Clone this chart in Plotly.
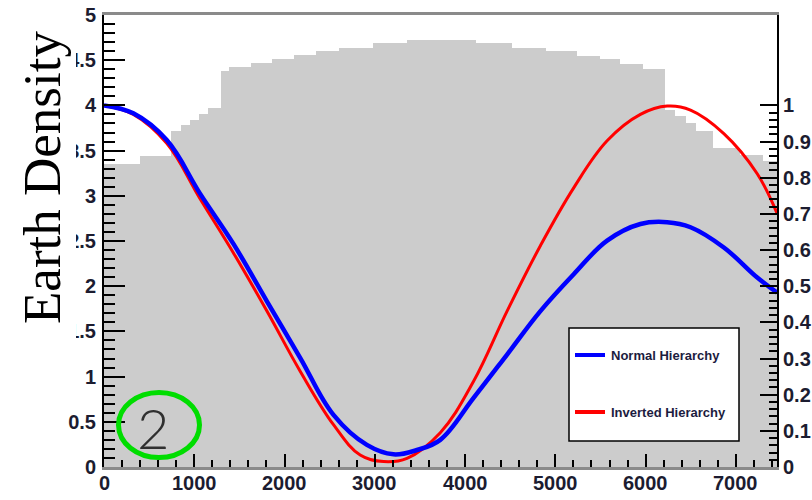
import plotly.graph_objects as go

# Earth density along the baseline (g/cm^3), as a stepped profile
density_edges_km = [0, 400, 740, 850, 950, 1050, 1150, 1300, 1390, 1630, 1860, 2100,
                    2350, 2600, 2980, 3360, 4120, 4520, 4900, 5240, 5490, 5720, 5970,
                    6210, 6330, 6450, 6560, 6750, 7050, 7300, 7460]
density_values = [3.35, 3.44, 3.72, 3.78, 3.84, 3.90, 3.97, 4.38, 4.42, 4.47, 4.51,
                  4.56, 4.60, 4.64, 4.69, 4.72, 4.69, 4.64, 4.60, 4.55, 4.51, 4.46,
                  4.40, 3.95, 3.88, 3.80, 3.72, 3.53, 3.45, 3.38]

# Oscillation probability vs distance, normal hierarchy
distance_nh = [0, 325, 695, 1064, 1434, 1803, 2173, 2542, 2912, 3207, 3466, 3725,
               4094, 4465, 4834, 5203, 5573, 5942, 6238, 6497, 6866, 7236, 7458]
prob_nh = [1.0, 0.978, 0.904, 0.756, 0.617, 0.459, 0.302, 0.144, 0.061, 0.035, 0.047,
           0.075, 0.191, 0.311, 0.431, 0.533, 0.626, 0.672, 0.677, 0.663, 0.607, 0.524,
           0.482]

# Oscillation probability vs distance, inverted hierarchy
distance_ih = [0, 325, 695, 1064, 1434, 1803, 2173, 2542, 2838, 3097, 3356, 3725,
               4094, 4465, 4834, 5203, 5573, 5942, 6238, 6497, 6866, 7236, 7458]
prob_ih = [1.0, 0.975, 0.895, 0.742, 0.592, 0.432, 0.265, 0.117, 0.033, 0.015, 0.024,
           0.095, 0.237, 0.431, 0.612, 0.772, 0.902, 0.975, 0.998, 0.987, 0.922, 0.811,
           0.70]

x_ticks = [0, 1000, 2000, 3000, 4000, 5000, 6000, 7000]
right_ticks = [0, 0.1, 0.2, 0.3, 0.4, 0.5, 0.6, 0.7, 0.8, 0.9, 1.0]
right_ticktext = ["0", "0.1", "0.2", "0.3", "0.4", "0.5", "0.6", "0.7", "0.8", "0.9", "1"]

W, H = 812, 500
ML, MR, MT, MB = 104, 35, 15, 33
PW, PH = W - ML - MR, H - MT - MB


def px_x(p):
    return (p - ML) / PW


def px_y(p):
    return (H - MB - p) / PH


bar_centers = [(a + b) / 2 for a, b in zip(density_edges_km[:-1], density_edges_km[1:])]
bar_widths = [b - a for a, b in zip(density_edges_km[:-1], density_edges_km[1:])]

TICK_FONT = dict(family="Liberation Sans", size=20, color="#1c1c30", weight="bold")

fig = go.Figure()
fig.add_trace(go.Bar(
    x=bar_centers, y=density_values, width=bar_widths,
    marker=dict(color="#cccccc", line=dict(width=0)),
    yaxis="y", showlegend=False, hoverinfo="skip",
))
fig.add_trace(go.Scatter(
    x=distance_ih, y=prob_ih, mode="lines", yaxis="y2",
    line=dict(color="#ff0000", width=3, shape="spline", smoothing=1.1),
    name="Inverted Hierarchy", showlegend=False,
))
fig.add_trace(go.Scatter(
    x=distance_nh, y=prob_nh, mode="lines", yaxis="y2",
    line=dict(color="#0000ff", width=4.5, shape="spline", smoothing=1.1),
    name="Normal Hierarchy", showlegend=False,
))

shapes = [
    # cover box behind the axis title
    dict(type="rect", xref="paper", yref="paper", layer="above",
         x0=px_x(0), x1=px_x(76), y0=px_y(345), y1=px_y(0),
         fillcolor="white", line=dict(width=0)),
    # legend box
    dict(type="rect", xref="paper", yref="paper", layer="above",
         x0=px_x(569), x1=px_x(739), y0=px_y(441), y1=px_y(328),
         fillcolor="white", line=dict(color="black", width=1.5)),
    dict(type="line", xref="paper", yref="paper", layer="above",
         x0=px_x(575), x1=px_x(605), y0=px_y(355), y1=px_y(355),
         line=dict(color="#0000ff", width=4)),
    dict(type="line", xref="paper", yref="paper", layer="above",
         x0=px_x(575), x1=px_x(605), y0=px_y(412), y1=px_y(412),
         line=dict(color="#ff0000", width=4)),
    # green ring around the panel number
    dict(type="circle", xref="paper", yref="paper", layer="above",
         x0=px_x(118.5), x1=px_x(199.5), y0=px_y(457.5), y1=px_y(392.5),
         line=dict(color="#00dd00", width=5)),
]

annotations = [
    dict(text="Earth Density", xref="paper", yref="paper",
         x=px_x(42), y=px_y(178), xanchor="center", yanchor="middle",
         textangle=-90, showarrow=False,
         font=dict(family="Liberation Serif", size=53, color="black")),
    dict(text="Normal Hierarchy", xref="paper", yref="paper",
         x=px_x(609), y=px_y(355), xanchor="left", yanchor="middle", showarrow=False,
         font=dict(family="Liberation Sans", size=13, color="#1c1c40", weight="bold")),
    dict(text="Inverted Hierarchy", xref="paper", yref="paper",
         x=px_x(609), y=px_y(412), xanchor="left", yanchor="middle", showarrow=False,
         font=dict(family="Liberation Sans", size=13, color="#1c1c40", weight="bold")),
    dict(text="2", xref="paper", yref="paper",
         x=px_x(153), y=px_y(427), xanchor="center", yanchor="middle", showarrow=False,
         font=dict(family="Lato", size=56, color="#303030", weight=300)),
]

# distance labels sit close under the bottom axis line
for v in x_ticks:
    annotations.append(dict(
        text=str(v), xref="x", yref="paper", x=v, y=px_y(483),
        xanchor="center", yanchor="middle", showarrow=False,
        font=TICK_FONT,
    ))

fig.update_layout(
    width=W, height=H,
    margin=dict(l=ML, r=MR, t=MT, b=MB, pad=0, autoexpand=False),
    paper_bgcolor="white", plot_bgcolor="white",
    bargap=0,
    shapes=shapes, annotations=annotations,
    xaxis=dict(
        range=[0, 7455], tickvals=x_ticks, ticks="inside", ticklen=13,
        tickcolor="black", tickwidth=1.5, automargin=False,
        showticklabels=False,
        minor=dict(dtick=200, tick0=0, ticks="inside", ticklen=7,
                   tickcolor="black", tickwidth=1.5),
        showgrid=False, zeroline=False,
        showline=True, linecolor="#8a8a8a", linewidth=2.5, mirror=True,
    ),
    yaxis=dict(
        range=[0, 5], dtick=0.5, tick0=0, ticks="inside", ticklen=21,
        tickcolor="black", tickwidth=1.5, automargin=False,
        minor=dict(dtick=0.1, tick0=0, ticks="inside", ticklen=11,
                   tickcolor="black", tickwidth=1.5),
        showgrid=False, zeroline=False,
        showline=True, linecolor="black", linewidth=2,
        tickfont=TICK_FONT, ticklabelstandoff=2,
    ),
    yaxis2=dict(
        range=[0, 1.25], overlaying="y", side="right", automargin=False,
        tickmode="array", tickvals=right_ticks, ticktext=right_ticktext,
        ticks="inside", ticklen=17, tickcolor="black", tickwidth=1.5,
        minor=dict(tickmode="array",
                   tickvals=[round(i * 0.02, 2) for i in range(51)],
                   ticks="inside", ticklen=8, tickcolor="black", tickwidth=1.5),
        showgrid=False, zeroline=False,
        showline=True, linecolor="black", linewidth=2,
        tickfont=TICK_FONT, ticklabelstandoff=0,
    ),
)

fig.write_html("out.html")
